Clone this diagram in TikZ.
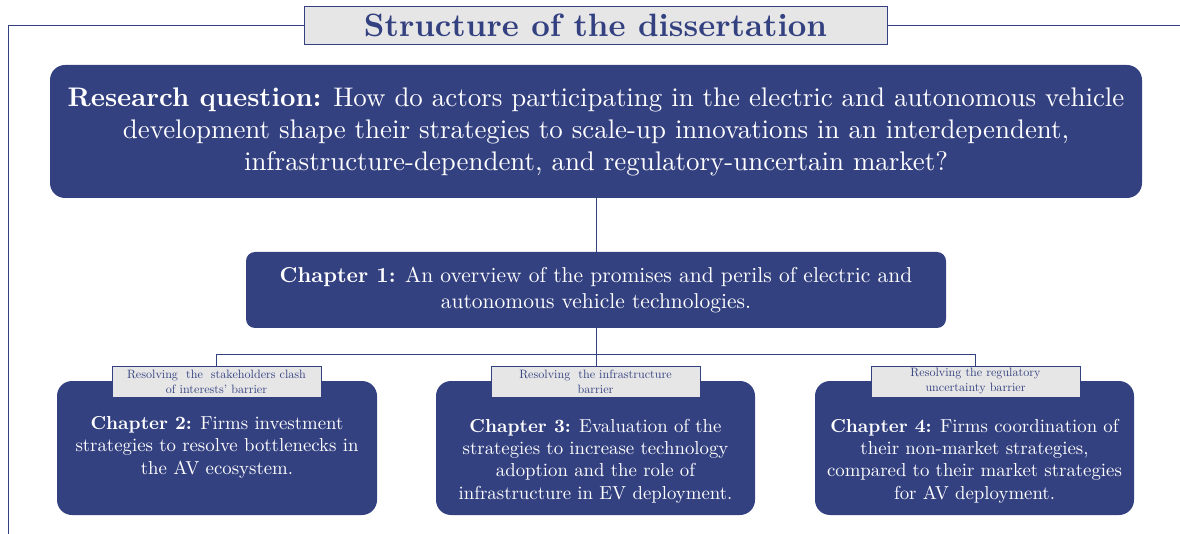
\documentclass[tikz,border=0pt]{standalone}
\usepackage{fontspec}
\setmainfont{lmroman10}[Extension=.otf, UprightFont=*-regular, BoldFont=*-bold, ItalicFont=*-italic, BoldItalicFont=*-bolditalic]
\definecolor{navy}{RGB}{52,65,128}
\definecolor{lgrey}{RGB}{230,230,230}
\begin{document}
\begin{tikzpicture}[x=1pt,y=-1pt,
  frame/.style={draw=navy, line width=0.9pt},
  link/.style={draw=navy, line width=0.9pt},
  bigbox/.style={fill=navy, inner sep=0pt},
  boxtext/.style={text=white, align=center, inner sep=0pt},
  tag/.style={fill=lgrey, draw=navy, line width=0.9pt, text=navy, align=center, inner sep=0pt}]
\useasboundingbox (0,0) rectangle (1180,534);
% title and frame
\node[tag, minimum width=583, minimum height=38, font=\bfseries\fontsize{32.3}{34}\selectfont] (title) at (595.5,25) {Structure of the dissertation};
\draw[frame] (title.west) -- (8,25) -- (8,534);
\draw[frame] (title.east) -- (1180,25);
% research question
\node[bigbox, rounded corners=15pt, minimum width=1092, minimum height=133, boxtext, font=\fontsize{26.9}{32}\selectfont] (rq) at (596,131.5)
 {\textbf{Research question:} How do actors participating in the electric and autonomous vehicle\\
  development shape their strategies to scale-up innovations in an interdependent,\\
  infrastructure-dependent, and regulatory-uncertain market?};
% chapter 1
\node[bigbox, rounded corners=9pt, minimum width=700, minimum height=76, boxtext, font=\fontsize{21.5}{26}\selectfont] (ch1) at (596,290)
 {\textbf{Chapter 1:} An overview of the promises and perils of electric and\\
  autonomous vehicle technologies.};
\draw[link] (rq.south) -- (ch1.north);
% chapter boxes
\node[bigbox, rounded corners=15pt, minimum width=320, minimum height=134] (ch2) at (217,448) {};
\node[bigbox, rounded corners=15pt, minimum width=319, minimum height=134] (ch3) at (595.5,448) {};
\node[bigbox, rounded corners=15pt, minimum width=319, minimum height=134] (ch4) at (974.5,448) {};
\node[boxtext, font=\fontsize{18.8}{22.5}\selectfont] (ch2t) at (217,447)
 {\textbf{Chapter 2:} Firms investment\\ strategies to resolve bottlenecks in\\ the AV ecosystem.};
\node[boxtext, font=\fontsize{18.8}{22.3}\selectfont] (ch3t) at (595.5,461)
 {\textbf{Chapter 3:} Evaluation of the\\ strategies to increase technology\\ adoption and the role of\\ infrastructure in EV deployment.};
\node[boxtext, font=\fontsize{18.8}{22.3}\selectfont] (ch4t) at (974.5,461)
 {\textbf{Chapter 4:} Firms coordination of\\ their non-market strategies,\\ compared to their market strategies\\ for AV deployment.};
% tags
\node[tag, minimum width=209, minimum height=31, font=\fontsize{12.1}{15}\selectfont] (t2) at (216.5,381.5)
 {Resolving\ \ the\ \ stakeholders clash\\ of interests' barrier};
\node[tag, minimum width=209, minimum height=31, font=\fontsize{12.1}{15}\selectfont] (t3) at (595.5,381.5)
 {Resolving\ \ the infrastructure\\ barrier};
\node[tag, minimum width=209, minimum height=31, font=\fontsize{12.1}{15}\selectfont] (t4) at (975.5,381.5)
 {Resolving the regulatory\\ uncertainty barrier};
% connectors
\coordinate (bus) at (596,354);
\draw[link] (ch1.south) -- (bus);
\draw[link] (bus) -- (bus |- t3.north);
\draw[link] (t2.north) -- (t2.north |- bus) -- (t4.north |- bus) -- (t4.north);
\end{tikzpicture}
\end{document}
